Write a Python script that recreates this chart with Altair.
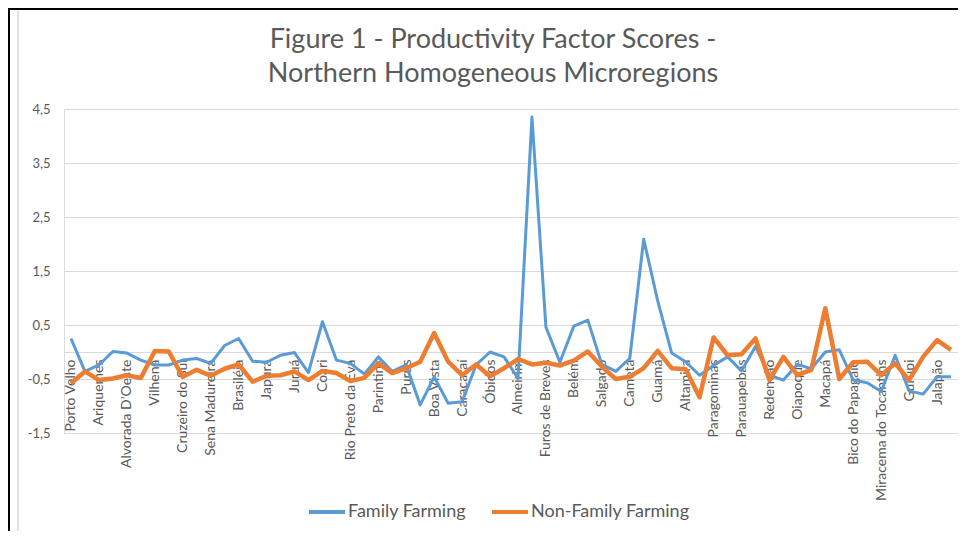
import altair as alt
import pandas as pd

regions = [
    "Porto Velho", "Guajará-Mirim", "Ariquemes", "Ji-Paraná", "Alvorada D'Oeste", "Cacoal",
    "Vilhena", "Colorado do Oeste",
    "Cruzeiro do Sul", "Tarauacá", "Sena Madureira", "Rio Branco", "Brasiléia",
    "Rio Negro", "Japurá", "Alto Solimões", "Juruá", "Tefé", "Coari", "Manaus",
    "Rio Preto da Eva", "Itacoatiara", "Parintins", "Boca do Acre", "Purus", "Madeira",
    "Boa Vista", "Nordeste de Roraima", "Caracaraí", "Sudeste de Roraima",
    "Óbidos", "Santarém", "Almeirim", "Portel", "Furos de Breves", "Arari", "Belém",
    "Castanhal", "Salgado", "Bragantina", "Cametá", "Tomé-Açu", "Guamá", "Itaituba",
    "Altamira", "Tucuruí", "Paragominas", "São Félix do Xingu", "Parauapebas", "Marabá",
    "Redenção", "Conceição do Araguaia",
    "Oiapoque", "Amapá", "Macapá", "Mazagão",
    "Bico do Papagaio", "Araguaína", "Miracema do Tocantins", "Rio Formoso", "Gurupi",
    "Dianópolis", "Jalapão", "Porto Nacional",
]

family = [
    0.25, -0.36, -0.24, 0.01, -0.02, -0.15, -0.24, -0.24, -0.15, -0.12, -0.21, 0.12,
    0.25, -0.17, -0.19, -0.06,
    -0.01, -0.38, 0.56, -0.15, -0.21, -0.41, -0.09, -0.36, -0.24, -0.98, -0.46, -0.95,
    -0.92, -0.24, 0.0,
    -0.09, -0.49, 4.35, 0.46, -0.19, 0.48, 0.59, -0.23, -0.36, -0.12, 2.09, 0.95,
    -0.02, -0.18, -0.43, -0.25,
    -0.09, -0.35, 0.10, -0.43, -0.52, -0.23, -0.31, 0.0, 0.04, -0.52, -0.57, -0.73,
    -0.06, -0.72, -0.78, -0.46, -0.46,
]

non_family = [
    -0.58, -0.36, -0.52, -0.49, -0.43, -0.48, 0.02, 0.01, -0.46, -0.33, -0.44, -0.31,
    -0.23, -0.55, -0.44, -0.43,
    -0.36, -0.52, -0.35, -0.39, -0.54, -0.48, -0.21, -0.39, -0.30, -0.18, 0.35, -0.18,
    -0.43, -0.23, -0.45,
    -0.30, -0.13, -0.23, -0.20, -0.25, -0.16, 0.01, -0.27, -0.50, -0.46, -0.30, 0.02,
    -0.30, -0.32, -0.84, 0.27,
    -0.06, -0.04, 0.25, -0.52, -0.09, -0.43, -0.33, 0.81, -0.50, -0.19, -0.18, -0.43,
    -0.21, -0.52, -0.09, 0.22, 0.04,
]

series_names = ["Family Farming", "Non-Family Farming"]
series_colors = ["#5B9BD5", "#ED7D31"]
y_ticks = [-1.5, -0.5, 0.5, 1.5, 2.5, 3.5, 4.5]
x_label_values = regions[::2]
title_lines = ["Figure 1 - Productivity Factor Scores -", "Northern Homogeneous Microregions"]

df = pd.DataFrame({
    "region": regions * 2,
    "series": [series_names[0]] * len(regions) + [series_names[1]] * len(regions),
    "value": family + non_family,
})

TEXT = "#595959"
GRID = "#d9d9d9"
FONT = "Lato"
W, H = 894, 324

x_enc = alt.X(
    "region:N",
    sort=regions,
    scale=alt.Scale(type="point", padding=0.5),
    axis=alt.Axis(
        title=None, values=x_label_values, labelAngle=270, offset=-81, ticks=False,
        domainColor=GRID, labelFont=FONT, labelFontSize=14, labelColor=TEXT,
        labelPadding=7, labelOverlap=False, labelLimit=300, grid=False,
    ),
)
y_enc = alt.Y(
    "value:Q",
    scale=alt.Scale(domain=[-1.5, 4.5], nice=False, zero=False),
    axis=alt.Axis(
        title=None, values=y_ticks,
        labelExpr="(datum.value < 0 ? '-' : '') + replace(format(abs(datum.value), '.1f'), '.', ',')",
        domain=False, ticks=False, gridColor=GRID, labelFont=FONT, labelFontSize=13,
        labelColor=TEXT, labelPadding=14,
    ),
)
color_enc = alt.Color(
    "series:N",
    scale=alt.Scale(domain=series_names, range=series_colors),
    legend=alt.Legend(
        title=None, orient="none", legendX=243, legendY=383, direction="horizontal",
        symbolType="stroke", symbolStrokeWidth=4, symbolSize=1296,
        labelFont=FONT, labelFontSize=18, labelColor=TEXT, columnPadding=17, labelOffset=1,
    ),
)

base = alt.Chart(df)
blue = base.transform_filter(alt.datum.series == series_names[0]).mark_line(
    strokeWidth=3, strokeJoin="round"
).encode(x=x_enc, y=y_enc, color=color_enc)
orange = base.transform_filter(alt.datum.series == series_names[1]).mark_line(
    strokeWidth=4.5, strokeJoin="round"
).encode(x=x_enc, y=y_enc, color=color_enc)

frame_df = pd.DataFrame({"a": [0]})
top_rule = alt.Chart(frame_df).mark_rule(color="black", strokeWidth=2).encode(
    x=alt.value(-56), x2=alt.value(W), y=alt.value(-100)
)
left_rule = alt.Chart(frame_df).mark_rule(color="black", strokeWidth=2).encode(
    x=alt.value(-55), y=alt.value(-101), y2=alt.value(H + 98)
)
inner_left = alt.Chart(frame_df).mark_rule(color=GRID, strokeWidth=1.5).encode(
    x=alt.value(-46), y=alt.value(-98), y2=alt.value(H + 98)
)

chart = alt.layer(blue, orange, top_rule, left_rule, inner_left).properties(
    width=W,
    height=H,
    padding={"left": 56, "top": 101, "right": 0, "bottom": 98},
    autosize=alt.AutoSizeParams(type="none"),
    title=alt.TitleParams(
        text=title_lines, font=FONT, fontSize=27, fontWeight="normal", color=TEXT,
        lineHeight=34, anchor="middle", dx=-18, dy=99, offset=18,
    ),
).configure_view(stroke=None).configure(background="white")

chart.save("out.html", embed_options={"renderer": "svg", "actions": False})
